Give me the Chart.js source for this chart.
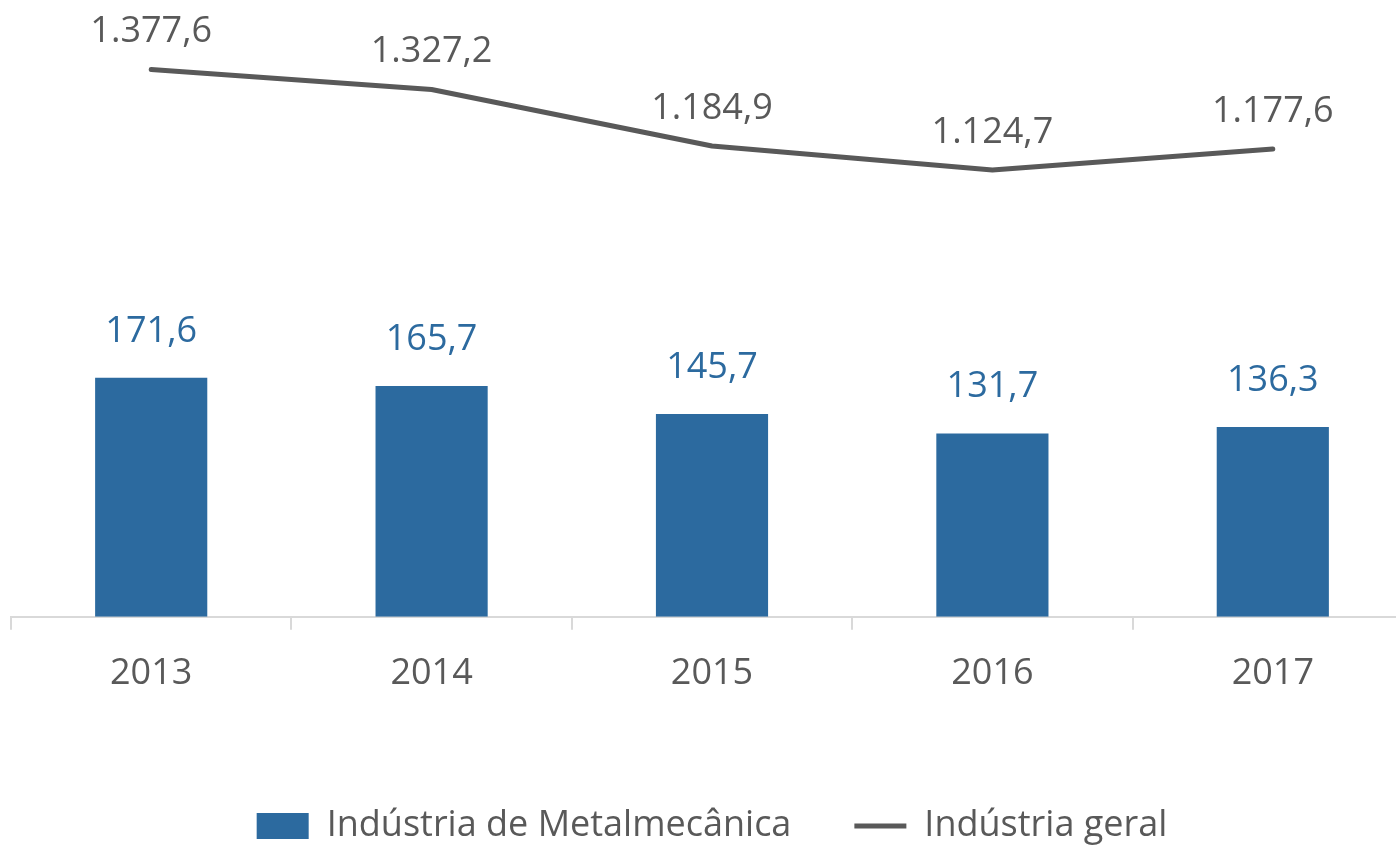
<!DOCTYPE html>
<html>
<head>
<meta charset="utf-8">
<script src="https://cdn.jsdelivr.net/npm/chart.js@4.4.0/dist/chart.umd.min.js"></script>
<style>
  html, body { margin: 0; padding: 0; background: #fff; overflow: hidden; }
</style>
</head>
<body>
<canvas id="grafico" width="1414" height="854"></canvas>
<script>
// dados
const anos = ['2013', '2014', '2015', '2016', '2017'];
const metalmecanica = [171.6, 165.7, 145.7, 131.7, 136.3];
const industriaGeral = [1377.6, 1327.2, 1184.9, 1124.7, 1177.6];

const AZUL = '#2C6A9F';
const CINZA = '#595959';

Chart.defaults.font.family = '"Open Sans", sans-serif';

// formato pt-BR: 1.377,6
function formatar(v) {
    const partes = v.toFixed(1).split('.');
    const inteiro = partes[0].replace(/\B(?=(\d{3})+(?!\d))/g, '.');
    return inteiro + ',' + partes[1];
}

// rótulos de valor acima das barras e dos pontos
const rotulos = {
    id: 'rotulos',
    afterDatasetsDraw(chart) {
        const ctx = chart.ctx;
        ctx.save();
        ctx.font = '36px "Open Sans", sans-serif';
        ctx.textAlign = 'center';
        ctx.textBaseline = 'alphabetic';
        chart.data.datasets.forEach((ds, i) => {
            const meta = chart.getDatasetMeta(i);
            const acima = ds.type === 'line' ? 27 : 36;
            ctx.fillStyle = ds.type === 'line' ? CINZA : AZUL;
            meta.data.forEach((el, j) => {
                ctx.fillText(formatar(ds.data[j]), el.x, el.y - acima);
            });
        });
        ctx.restore();
    }
};

const ctx = document.getElementById('grafico').getContext('2d');
new Chart(ctx, {
    type: 'bar',
    data: {
        labels: anos,
        datasets: [
            {
                type: 'bar',
                label: 'Indústria de Metalmecânica',
                data: metalmecanica,
                backgroundColor: AZUL,
                borderWidth: 0,
                barPercentage: 0.4,
                categoryPercentage: 1,
                pointStyle: 'rect',
                yAxisID: 'y'
            },
            {
                type: 'line',
                label: 'Indústria geral',
                data: industriaGeral,
                borderColor: CINZA,
                backgroundColor: CINZA,
                borderWidth: 5,
                borderCapStyle: 'round',
                borderJoinStyle: 'round',
                tension: 0,
                pointRadius: 0,
                pointHoverRadius: 0,
                pointStyle: 'line',
                pointBorderColor: CINZA,
                pointBorderWidth: 5,
                yAxisID: 'y1'
            }
        ]
    },
    options: {
        responsive: false,
        animation: false,
        layout: {
            padding: { top: 20, left: 11, right: 1, bottom: 0 }
        },
        scales: {
            x: {
                offset: true,
                grid: {
                    offset: true,
                    drawOnChartArea: false,
                    drawTicks: true,
                    tickLength: 13,
                    color: '#D9D9D9',
                    lineWidth: 2
                },
                border: { display: true, color: '#D9D9D9', width: 2 },
                ticks: {
                    color: CINZA,
                    font: { size: 36 },
                    padding: 22,
                    maxRotation: 0
                },
                title: {
                    display: true,
                    text: '',
                    font: { size: 10 },
                    padding: { top: 0, bottom: 16 }
                }
            },
            y: {
                display: false,
                min: 0,
                max: 428.6
            },
            y1: {
                display: false,
                position: 'right',
                min: 0,
                max: 1502
            }
        },
        plugins: {
            legend: {
                position: 'bottom',
                labels: {
                    usePointStyle: true,
                    pointStyleWidth: 52,
                    boxHeight: 26,
                    padding: 63,
                    color: CINZA,
                    font: { size: 36 }
                }
            },
            tooltip: { enabled: false }
        }
    },
    plugins: [rotulos]
});
</script>
</body>
</html>
